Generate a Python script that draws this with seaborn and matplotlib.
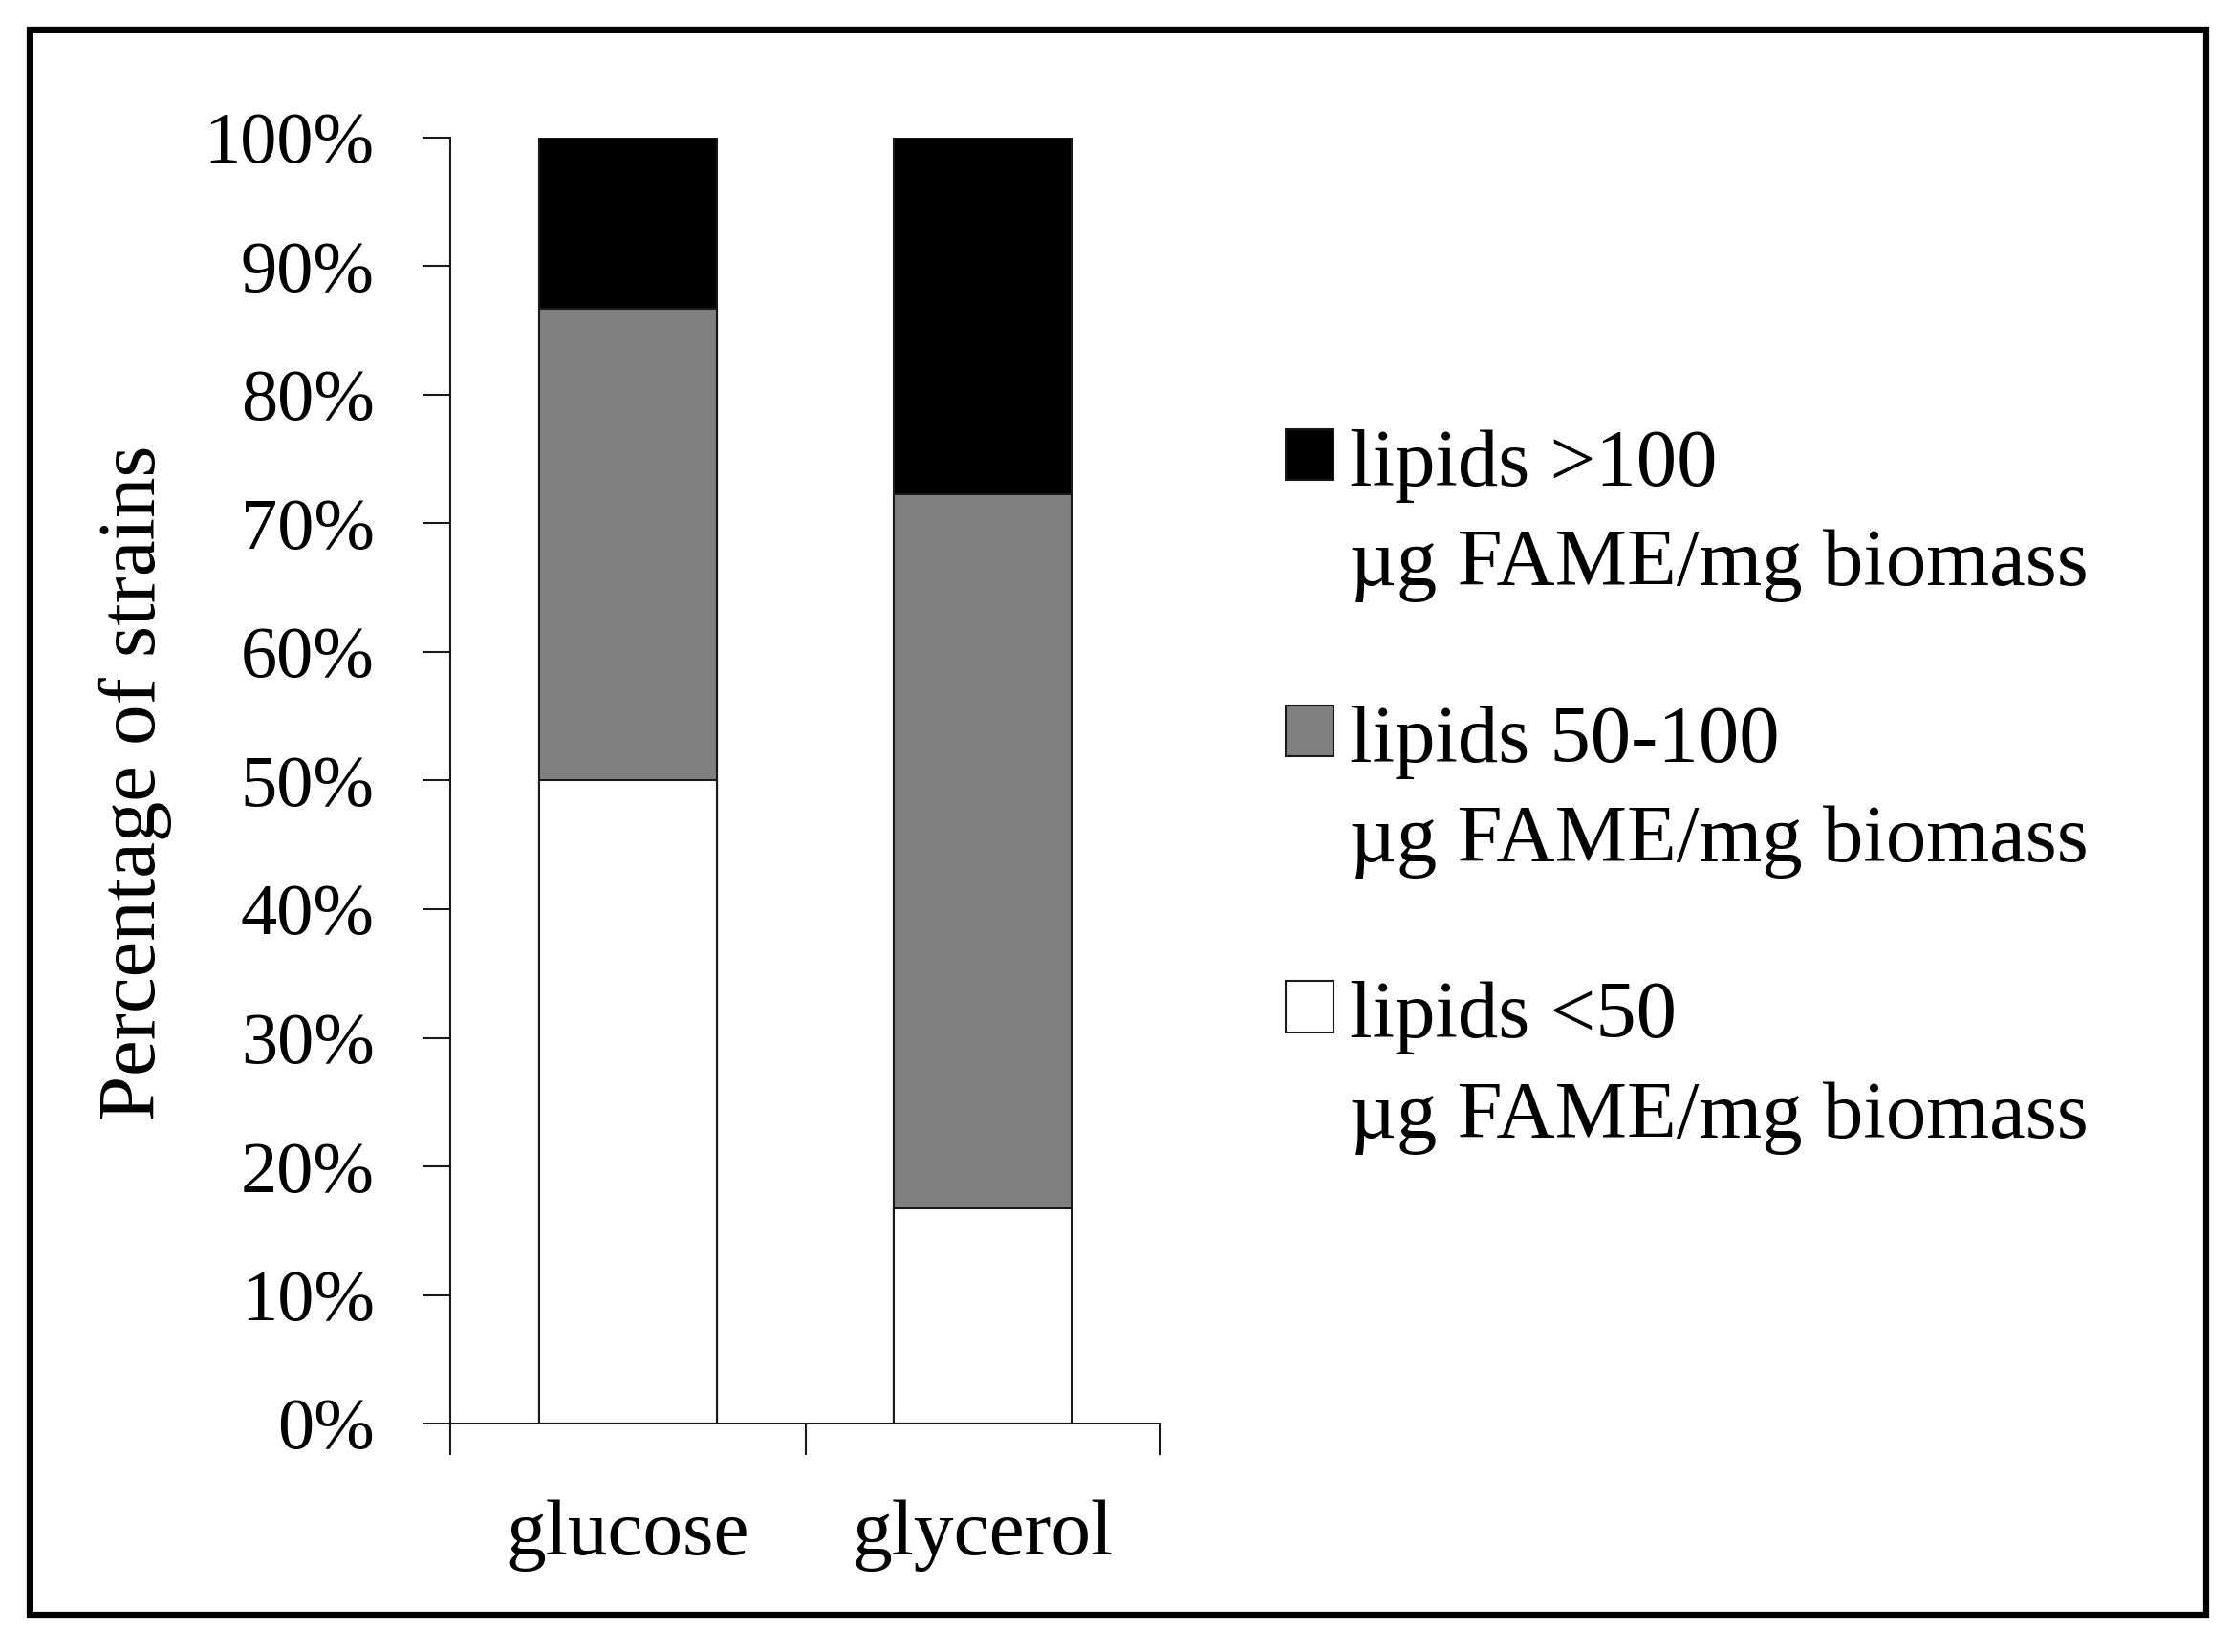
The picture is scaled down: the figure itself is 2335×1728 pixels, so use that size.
import matplotlib
matplotlib.use("Agg")
import matplotlib.pyplot as plt
import seaborn as sns
import numpy as np
import pandas as pd
from matplotlib.patches import Patch, Rectangle

# ---- data ----
categories = ["glucose", "glycerol"]
lipids_low = [50.0, 16.7]      # lipids <50
lipids_mid = [36.7, 55.6]      # lipids 50-100
lipids_high = [13.3, 27.7]     # lipids >100
series_labels = ["lipids >100\nµg FAME/mg biomass",
                 "lipids 50-100\nµg FAME/mg biomass",
                 "lipids <50\nµg FAME/mg biomass"]
series_colors = ["#000000", "#808080", "#ffffff"]
ytick_values = [0, 10, 20, 30, 40, 50, 60, 70, 80, 90, 100]

sns.set_style("ticks")
plt.rcParams["font.family"] = ["Liberation Serif", "DejaVu Serif"]
plt.rcParams["text.color"] = "black"
plt.rcParams["axes.labelcolor"] = "black"
plt.rcParams["xtick.color"] = "black"
plt.rcParams["ytick.color"] = "black"

W, H = 2335, 1728
fig = plt.figure(figsize=(W / 100, H / 100), dpi=100)
ax = fig.add_axes([471 / W, 1 - 1489 / H, (1214 - 471) / W, (1489 - 144) / H])

df = pd.DataFrame({"cat": categories,
                   "low": lipids_low,
                   "mid": lipids_mid,
                   "high": lipids_high})
df["c_low"] = df["low"]
df["c_mid"] = df["low"] + df["mid"]
df["c_high"] = df["low"] + df["mid"] + df["high"]

edge = "#1a1a1a"
for col, colr in zip(["c_high", "c_mid", "c_low"], series_colors):
    sns.barplot(data=df, x="cat", y=col, color=colr, width=0.5,
                edgecolor=edge, linewidth=1.5, saturation=1, ax=ax)

ax.set_xlim(-0.5, 1.5)
ax.set_ylim(0, 100)
ax.set_yticks(ytick_values)
ax.set_yticklabels([f"{v}%" for v in ytick_values])
ax.set_xticks([-0.5, 0.5, 1.5])
ax.set_xticklabels([])
ax.set_xticks([0, 1], minor=True)
ax.set_xticklabels(categories, minor=True)
ax.tick_params(axis="x", which="major", length=24, width=1.5, color=edge)
ax.tick_params(axis="x", which="minor", length=0, pad=57, labelsize=60,
               labelcolor="black")
ax.tick_params(axis="y", length=21, width=1.5, color=edge, pad=36,
               labelsize=55, labelcolor="black")
ax.set_xlabel("")
ax.set_ylabel("Percentage of strains", fontsize=61, va="center", color="black")
ax.yaxis.set_label_coords(-0.444, 0.498)
for s in ["top", "right"]:
    ax.spines[s].set_visible(False)
for s in ["left", "bottom"]:
    ax.spines[s].set_linewidth(1.5)
    ax.spines[s].set_color(edge)

handles = [Patch(facecolor=c, edgecolor=edge, linewidth=1.5) for c in series_colors]
leg = fig.legend(handles, series_labels, loc="upper left",
                 bbox_to_anchor=(1345 / W, 1 - 449 / H),
                 frameon=False, fontsize=61, borderpad=0, borderaxespad=0,
                 handlelength=0.59, handleheight=0.59, handletextpad=0.2,
                 labelspacing=1.27)
for t in leg.get_texts():
    t.set_linespacing(1.46)
    t.set_color("black")
try:
    for col in leg._legend_handle_box.get_children():
        for hp in col.get_children():
            hp.align = "top"
except Exception:
    pass

# figure frame
fig.patches.append(Rectangle((31 / W, 1 - 1689 / H), (2308 - 31) / W, (1689 - 31) / H,
                             transform=fig.transFigure, fill=False,
                             edgecolor="black", linewidth=4.5, zorder=10))

fig.savefig("out.png", dpi=100)
